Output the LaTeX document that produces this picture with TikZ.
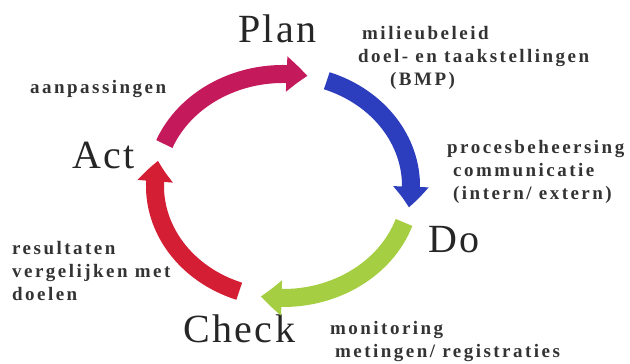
\documentclass[tikz,border=0pt]{standalone}
\usepackage{fontspec}
\newfontfamily\stagefont[LetterSpace=6]{Liberation Serif}
\newfontfamily\notefont[LetterSpace=13]{Liberation Serif}
\usetikzlibrary{positioning, calc, arrows.meta, bending}

\definecolor{actpink}{RGB}{196,26,92}
\definecolor{planblue}{RGB}{44,62,190}
\definecolor{dogreen}{RGB}{166,206,66}
\definecolor{checkred}{RGB}{212,30,52}

\begin{document}
\begin{tikzpicture}[x=1pt, y=1pt,
stage/.style= {inner sep=0pt, anchor=base west, text=black!85, font=\stagefont\fontsize{40}{40}\selectfont},
note/.style= {inner sep=0pt, anchor=base west, align=left, text=black!80, font=\notefont\bfseries\fontsize{19}{23}\selectfont},
cyc/.style= {line width=18pt, -{Triangle[width=34pt, length=21pt, bend]}} ]
\useasboundingbox (0,0) rectangle (630,364);
\coordinate (C) at (283,178);
% the four stages
\node (Plan) [stage] at (238,321) {Plan};
\node (Do) [stage] at (428,111) {Do};
\node (Check) [stage] at (183,21) {Check};
\node (Act) [stage] at (72,195) {Act};
% notes (base = last line)
\node (PlanNote) [note] at (358,278) {\hspace*{4pt}milieubeleid\\doel- en taakstellingen\\\hspace*{32pt}(BMP)};
\node (DoNote) [note] at (447,164) {procesbeheersing\\\hspace*{6pt}communicatie\\\hspace*{6pt}(intern/ extern)};
\node (CheckNote) [note] at (330,6) {monitoring\\\hspace*{5pt}metingen/ registraties};
\node (ActNote) [note] at (30,270) {aanpassingen};
\node (ResNote) [note] at (12,63) {resultaten\\vergelijken met\\doelen};
% cycle arrows
\coordinate (ActOut) at ($(C)+(158:128 and 112)$);
\coordinate (PlanOut) at ($(C)+(70:128 and 112)$);
\coordinate (DoOut) at ($(C)+(-19:128 and 112)$);
\coordinate (CheckOut) at ($(C)+(-110:128 and 112)$);
\draw[cyc, actpink] (ActOut) arc[start angle=158, end angle=79, x radius=128pt, y radius=112pt];
\draw[cyc, planblue] (PlanOut) arc[start angle=70, end angle=-11, x radius=128pt, y radius=112pt];
\draw[cyc, dogreen] (DoOut) arc[start angle=-19, end angle=-100, x radius=128pt, y radius=112pt];
\draw[cyc, checkred] (CheckOut) arc[start angle=-110, end angle=-193, x radius=128pt, y radius=112pt];
\end{tikzpicture}
\end{document}
